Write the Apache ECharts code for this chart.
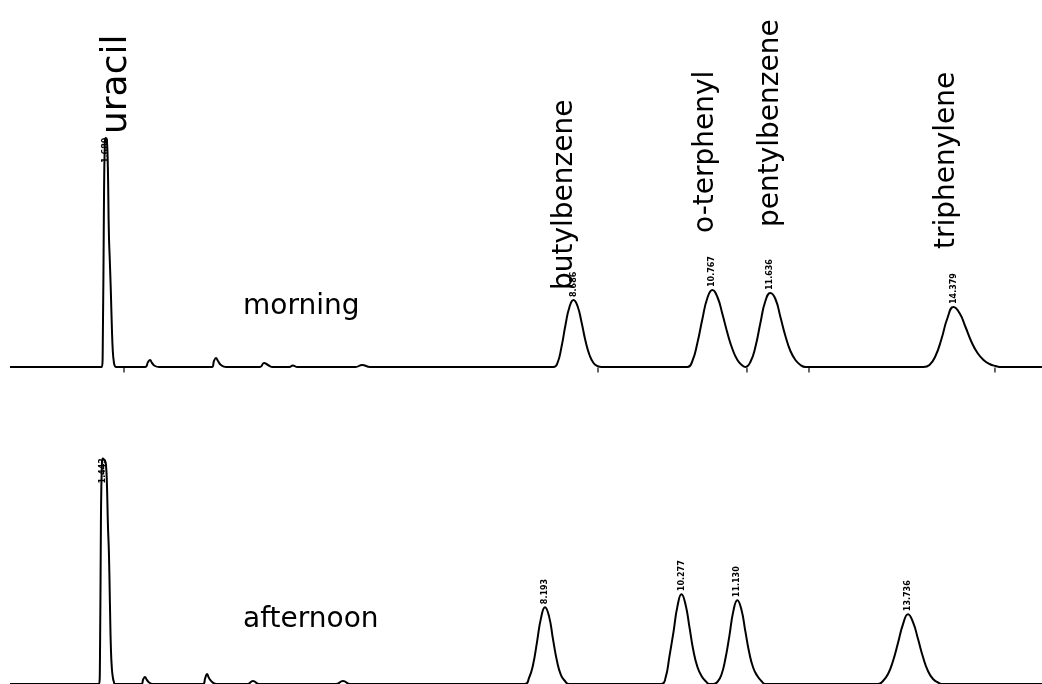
<!DOCTYPE html>
<html>
<head>
<meta charset="utf-8">
<script src="https://cdn.jsdelivr.net/npm/echarts@6/dist/echarts.min.js"></script>
<style>
  html, body { margin: 0; padding: 0; background: #fff; }
  #chart { width: 1042px; height: 684px; }
</style>
</head>
<body>
<div id="chart"></div>
<script>
// Compounds of the test mix, in elution order
const compounds = ['uracil', 'butylbenzene', 'o-terphenyl', 'pentylbenzene', 'triphenylene'];

// Retention times (min) printed above each peak
const morningRT   = [1.680, 8.686, 10.767, 11.636, 14.379];
const afternoonRT = [1.443, 8.193, 10.277, 11.130, 13.736];

// Time windows of the two runs (min)
const morningRange   = [0.244, 15.705];
const afternoonRange = [0.024, 15.782];

// Integration marks on the morning baseline (min)
const morningMarks = [1.952, 9.053, 11.285, 12.214, 15.000];

// Morning run: [retention time (min), signal (mAU)]
const morningTrace = [
  [0.244, 0],
  [1.620, 0], [1.635, 30], [1.650, 150], [1.665, 225], [1.680, 229], [1.695, 227],
  [1.710, 200], [1.725, 135], [1.740, 105], [1.755, 75], [1.770, 40], [1.785, 15],
  [1.800, 5], [1.815, 1], [1.830, 0],
  [2.267, 0], [2.312, 5], [2.342, 7], [2.372, 4], [2.417, 1], [2.477, 0],
  [3.270, 0], [3.300, 6], [3.330, 9], [3.360, 6], [3.405, 2], [3.480, 0],
  [3.989, 0], [4.049, 4], [4.109, 2], [4.169, 0],
  [4.430, 0], [4.480, 1.5], [4.550, 0],
  [5.420, 0], [5.520, 2], [5.640, 0],
  [8.386, 0], [8.446, 4], [8.506, 20], [8.566, 42], [8.626, 60], [8.686, 67],
  [8.746, 61], [8.806, 45], [8.866, 26], [8.926, 12], [8.986, 4], [9.046, 1], [9.106, 0],
  [10.392, 0], [10.467, 6], [10.542, 24], [10.617, 48], [10.692, 69], [10.767, 77],
  [10.842, 70], [10.917, 53], [10.992, 34], [11.067, 18], [11.142, 7], [11.216, 1.5],
  [11.261, 0], [11.336, 5], [11.411, 20], [11.486, 44], [11.561, 66], [11.636, 74],
  [11.711, 68], [11.786, 50], [11.861, 31], [11.936, 16], [12.011, 7], [12.086, 2],
  [12.161, 0],
  [13.929, 0], [14.019, 2], [14.109, 11], [14.199, 28], [14.289, 49], [14.379, 60],
  [14.469, 54], [14.559, 40], [14.649, 25], [14.739, 14], [14.829, 7], [14.919, 3],
  [15.009, 1], [15.099, 0],
  [15.705, 0]
];

// Afternoon run: [retention time (min), signal (mAU)]
const afternoonTrace = [
  [0.024, 0],
  [1.382, 0], [1.397, 20], [1.412, 160], [1.428, 222], [1.443, 226], [1.458, 225],
  [1.474, 224], [1.489, 220], [1.504, 200], [1.519, 160], [1.535, 130], [1.550, 80],
  [1.565, 35], [1.580, 15], [1.596, 6], [1.611, 2], [1.626, 0],
  [2.025, 0], [2.060, 5], [2.085, 7], [2.115, 4], [2.160, 1], [2.220, 0],
  [2.970, 0], [3.005, 6], [3.032, 10], [3.062, 6], [3.110, 2], [3.180, 0],
  [3.650, 0], [3.734, 3], [3.830, 0],
  [5.000, 0], [5.109, 3], [5.220, 0],
  [7.888, 0], [7.949, 6], [8.010, 19], [8.071, 42], [8.132, 66], [8.193, 77],
  [8.254, 68], [8.315, 45], [8.376, 23], [8.437, 9], [8.498, 3], [8.559, 0],
  [9.972, 0], [10.033, 6], [10.094, 28], [10.155, 52], [10.216, 78], [10.277, 90],
  [10.338, 80], [10.399, 57], [10.460, 33], [10.521, 17], [10.583, 8], [10.644, 3],
  [10.705, 0],
  [10.763, 0], [10.825, 2], [10.886, 9], [10.947, 25], [11.008, 48], [11.069, 73],
  [11.130, 84], [11.191, 75], [11.252, 53], [11.313, 31], [11.374, 16], [11.436, 8],
  [11.497, 3], [11.558, 0],
  [13.278, 0], [13.354, 3], [13.431, 10], [13.507, 23], [13.583, 41], [13.660, 60],
  [13.736, 70], [13.812, 62], [13.889, 45], [13.965, 27], [14.041, 13], [14.118, 5],
  [14.194, 1.5], [14.270, 0],
  [15.782, 0]
];

// Placement of compound names relative to the morning apexes (px): right shift, lift
const nameLayout = [
  { dx: 11, dy: 4 }, { dx: -9, dy: 10 }, { dx: -7, dy: 57 }, { dx: 0, dy: 66 }, { dx: -7, dy: 58 }
];
const nameFontSize = [36, 28, 28, 28, 28];
// Lift of the retention-time labels above each apex (px); negative sits on the peak
const rtLift = [-25, 3, 3, 3, 3];

const FONT = '"DejaVu Sans", Verdana, sans-serif';

const chart = echarts.init(document.getElementById('chart'), null, { renderer: 'canvas' });

function traceSeries(idx, data) {
  return {
    type: 'line', xAxisIndex: idx, yAxisIndex: idx, data: data,
    showSymbol: false, symbol: 'none', smooth: 0.5,
    lineStyle: { color: '#000', width: 2 }, silent: true, clip: false
  };
}

chart.setOption({
  animation: false,
  backgroundColor: '#fff',
  grid: [
    { left: 10, right: 0, top: 100, height: 267 },
    { left: 10, right: 0, top: 418.5, height: 266 }
  ],
  xAxis: [
    { type: 'value', gridIndex: 0, min: morningRange[0], max: morningRange[1], show: false },
    { type: 'value', gridIndex: 1, min: afternoonRange[0], max: afternoonRange[1], show: false }
  ],
  yAxis: [
    { type: 'value', gridIndex: 0, min: 0, max: 267, show: false },
    { type: 'value', gridIndex: 1, min: 0, max: 266, show: false }
  ],
  series: [
    traceSeries(0, morningTrace),
    traceSeries(1, afternoonTrace),
    {
      type: 'scatter', xAxisIndex: 0, yAxisIndex: 0, silent: true,
      data: morningMarks.map(t => [t, 0]),
      symbol: 'rect', symbolSize: [1.5, 5], symbolOffset: [0, 3],
      itemStyle: { color: '#000' }
    }
  ]
});

// Signal value of a trace at a given retention time
function signalAt(trace, t) {
  const p = trace.find(d => Math.abs(d[0] - t) < 1e-9);
  return p ? p[1] : 0;
}

function px(idx, t, v) {
  return chart.convertToPixel({ xAxisIndex: idx, yAxisIndex: idx }, [t, v]);
}

function vText(x, y, text, font) {
  return {
    type: 'text', x: x, y: y, rotation: Math.PI / 2, silent: true,
    style: { text: text, fill: '#000', font: font, align: 'left', verticalAlign: 'middle' }
  };
}

const graphics = [];
[[0, morningRT, morningTrace], [1, afternoonRT, afternoonTrace]].forEach(([idx, rts, trace]) => {
  rts.forEach((rt, i) => {
    const p = px(idx, rt, signalAt(trace, rt));
    graphics.push(vText(p[0], p[1] - rtLift[i], rt.toFixed(3), 'bold 8px ' + FONT));
  });
});
morningRT.forEach((rt, i) => {
  const p = px(0, rt, signalAt(morningTrace, rt));
  graphics.push(vText(p[0] + nameLayout[i].dx, p[1] - nameLayout[i].dy, compounds[i],
    nameFontSize[i] + 'px ' + FONT));
});
graphics.push({
  type: 'text', x: 243, y: 307, silent: true,
  style: { text: 'morning', fill: '#000', font: '28px ' + FONT, align: 'left', verticalAlign: 'middle' }
});
graphics.push({
  type: 'text', x: 243, y: 620, silent: true,
  style: { text: 'afternoon', fill: '#000', font: '28px ' + FONT, align: 'left', verticalAlign: 'middle' }
});

chart.setOption({ graphic: graphics });
</script>
</body>
</html>
